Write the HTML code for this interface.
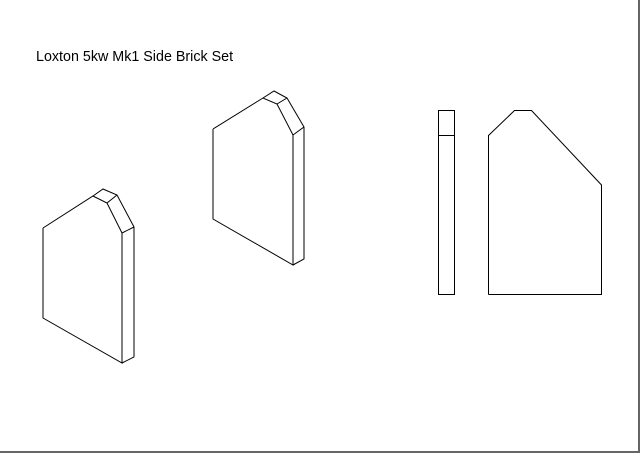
<!DOCTYPE html>
<html><head><style>
html,body{margin:0;padding:0;background:#fff;}
body{width:640px;height:453px;overflow:hidden;position:relative;}
.t{position:absolute;left:36px;top:49px;font:14.3px "Liberation Sans",sans-serif;color:#000;white-space:nowrap;}
svg{position:absolute;left:0;top:0;}
</style></head><body>
<div class="t">Loxton 5kw Mk1 Side Brick Set</div>
<svg width="640" height="453" viewBox="0 0 640 453" fill="none" stroke="#000" stroke-width="1">
<g>
<polyline points="43,228 93,196 107,203 122,233 122,363 43,318 43,228"/>
<polyline points="93,196 103,189 117,195 134,227 134,357 122,363"/>
<line x1="107" y1="203" x2="117" y2="195"/>
<line x1="122" y1="233" x2="134" y2="227"/>
</g>
<g>
<polyline points="213,129 263,98 277,104 293,135 293,265 213,219 213,129"/>
<polyline points="263,98 274,91 287,98 304,127 304,259 293,265"/>
<line x1="277" y1="104" x2="287" y2="98"/>
<line x1="293" y1="135" x2="304" y2="127"/>
</g>
<rect x="438.5" y="110.5" width="16" height="184"/>
<line x1="438.5" y1="135.5" x2="454.5" y2="135.5"/>
<polyline points="488.5,294.5 488.5,135.5 514.5,110.5 531.5,110.5 601.5,185 601.5,294.5 488.5,294.5"/>
<line x1="639" y1="0" x2="639" y2="453" stroke="#666" stroke-width="2"/>
<line x1="0" y1="452" x2="640" y2="452" stroke="#666" stroke-width="2"/>
</svg>
</body></html>
